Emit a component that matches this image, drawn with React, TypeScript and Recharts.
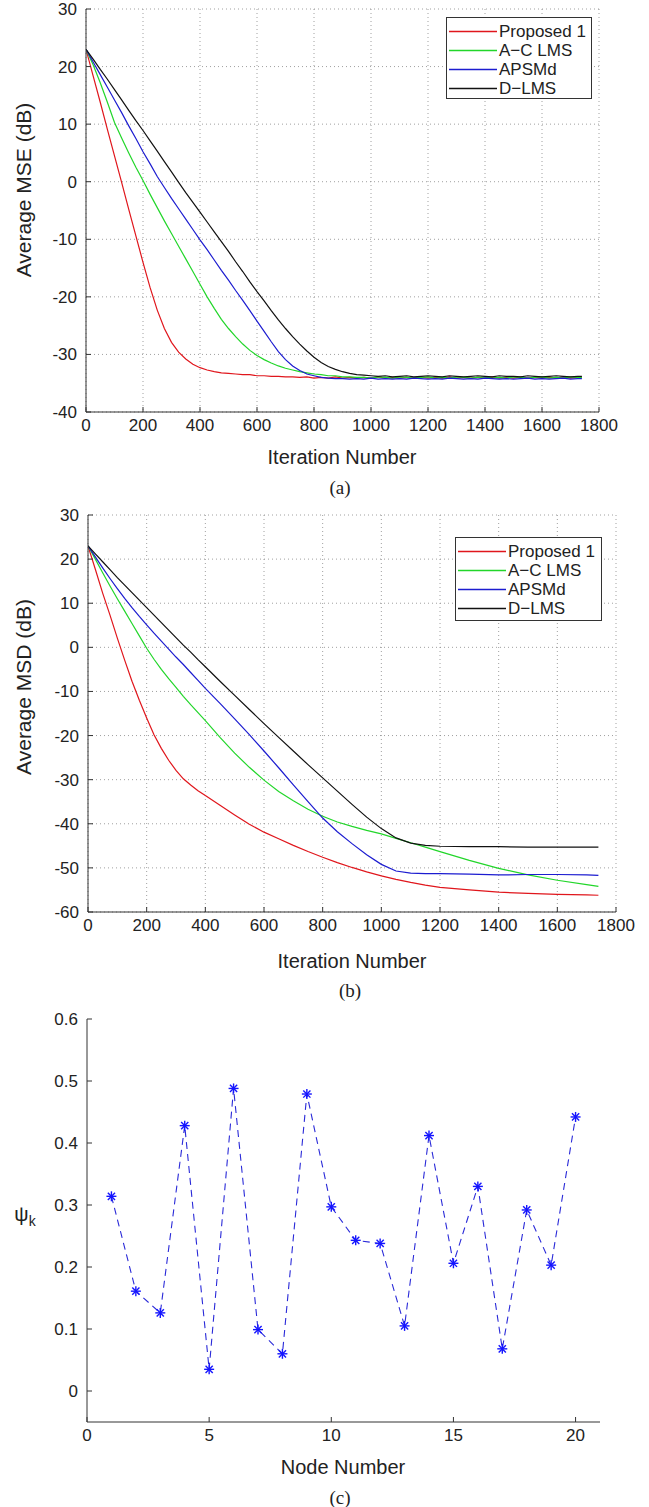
import React from 'react';
import { LineChart, Line, XAxis, YAxis, CartesianGrid, Legend } from 'recharts';

const FONT = '"Liberation Sans", Arial, Helvetica, sans-serif';
const TXT = '#222';
const AX = '#333';

// ---------- Panel (a): Average MSE ----------
const mseIter = [
  0, 25, 50, 75, 100, 125, 150, 175, 200, 225,
  250, 275, 300, 325, 350, 375, 400, 425, 450, 475,
  500, 525, 550, 575, 600, 625, 650, 675, 700, 725,
  750, 775, 800, 825, 850, 875, 900, 925, 950, 975,
  1000, 1025, 1050, 1075, 1100, 1125, 1150, 1175, 1200, 1225,
  1250, 1275, 1300, 1325, 1350, 1375, 1400, 1425, 1450, 1475,
  1500, 1525, 1550, 1575, 1600, 1625, 1650, 1675, 1700, 1725,
  1740,
];
const mseProposed = [
  23, 18.4, 13.8, 9.1, 4.5, -0.1, -4.8, -9.4, -14.0, -18.4,
  -22.3, -25.5, -27.9, -29.6, -30.8, -31.7, -32.3, -32.7, -33.0, -33.2,
  -33.3, -33.4, -33.5, -33.5, -33.7, -33.7, -33.8, -33.8, -33.9, -33.9,
  -34.0, -33.9, -34.1, -34.0, -34.1, -33.9, -34.1, -34.0, -34.1, -34.0,
  -34.1, -33.9, -34.1, -34.0, -34.1, -34.0, -34.1, -33.9, -34.1, -34.0,
  -34.1, -33.9, -34.1, -34.0, -34.1, -34.0, -34.1, -33.9, -34.1, -34.0,
  -34.1, -33.9, -34.1, -34.0, -34.1, -34.0, -34.1, -33.9, -34.1, -34.0,
  -34.0,
];
const mseAC = [
  23, 20.3, 17.2, 13.8, 10.3, 7.6, 5.0, 2.5, 0.2, -2.2,
  -4.5, -6.8, -9.0, -11.2, -13.4, -15.6, -17.8, -20.0, -22.0, -23.9,
  -25.5, -26.9, -28.2, -29.3, -30.2, -30.9, -31.5, -32.0, -32.4, -32.7,
  -33.0, -33.2, -33.4, -33.5, -33.7, -33.7, -33.9, -33.9, -34.0, -34.0,
  -34.1, -33.9, -34.0, -34.1, -33.9, -34.0, -34.1, -34.0, -33.9, -34.1,
  -34.0, -34.1, -33.9, -34.0, -34.1, -34.0, -33.9, -34.1, -34.0, -34.1,
  -33.9, -34.0, -34.1, -34.0, -33.9, -34.1, -34.0, -34.1, -33.9, -34.0,
  -34.0,
];
const mseAPSMd = [
  23, 20.8, 18.6, 16.4, 14.2, 12.0, 9.7, 7.5, 5.2, 3.1,
  0.9, -1.0, -2.9, -4.7, -6.5, -8.3, -10.1, -11.8, -13.6, -15.4,
  -17.1, -18.9, -20.6, -22.4, -24.2, -26.0, -27.8, -29.5, -30.9, -32.0,
  -32.8, -33.4, -33.7, -34.0, -34.1, -34.2, -34.2, -34.3, -34.2, -34.3,
  -34.1, -34.3, -34.2, -34.3, -34.2, -34.3, -34.1, -34.2, -34.3, -34.2,
  -34.3, -34.1, -34.2, -34.3, -34.2, -34.3, -34.1, -34.2, -34.3, -34.2,
  -34.3, -34.2, -34.1, -34.3, -34.2, -34.3, -34.2, -34.1, -34.3, -34.2,
  -34.2,
];
const mseDLMS = [
  23, 21.3, 19.5, 17.8, 16.0, 14.2, 12.4, 10.6, 8.9, 7.1,
  5.3, 3.5, 1.7, -0.1, -1.9, -3.6, -5.3, -7.0, -8.7, -10.4,
  -12.1, -13.9, -15.6, -17.4, -19.1, -20.7, -22.4, -24.0, -25.5, -26.9,
  -28.2, -29.4, -30.5, -31.4, -32.1, -32.6, -33.0, -33.3, -33.5, -33.6,
  -33.7, -33.8, -33.7, -33.9, -33.8, -33.7, -33.9, -33.8, -33.7, -33.8,
  -33.9, -33.7, -33.8, -33.9, -33.8, -33.7, -33.8, -33.9, -33.7, -33.8,
  -33.8, -33.9, -33.7, -33.8, -33.9, -33.8, -33.7, -33.8, -33.9, -33.8,
  -33.8,
];
const mseXTicks = [0, 200, 400, 600, 800, 1000, 1200, 1400, 1600, 1800];
const mseYTicks = [-40, -30, -20, -10, 0, 10, 20, 30];

// ---------- Panel (b): Average MSD ----------
const msdIter = [
  0, 25, 50, 75, 100, 125, 150, 175, 200, 225, 250, 275, 300, 325, 350, 375, 400,
  450, 500, 550, 600, 650, 700, 750, 800, 850, 900, 950, 1000, 1050, 1100, 1150, 1200,
  1300, 1400, 1500, 1600, 1700, 1740,
];
const msdProposed = [
  23, 17.7, 12.3, 7.3, 2.1, -2.9, -7.7, -12.0, -16.0, -19.8, -22.9, -25.6, -27.9, -29.8, -31.2, -32.5, -33.6,
  -35.8, -38.0, -40.1, -41.9, -43.4, -44.9, -46.3, -47.6, -48.8, -49.9, -50.9, -51.8, -52.6, -53.3, -53.9, -54.4,
  -55.0, -55.5, -55.8, -56.0, -56.1, -56.2,
];
const msdAC = [
  23, 20.0, 16.9, 13.9, 11.0, 8.2, 5.4, 2.6, -0.2, -2.7, -5.0, -7.1, -9.1, -11.1, -13.0, -14.8, -16.6,
  -20.4, -24.0, -27.2, -30.1, -32.7, -34.8, -36.7, -38.3, -39.6, -40.6, -41.5, -42.3, -43.3, -44.3, -45.3, -46.3,
  -48.3, -50.1, -51.6, -52.8, -53.8, -54.2,
];
const msdAPSMd = [
  23, 20.5, 18.0, 15.6, 13.3, 11.1, 9.0, 7.0, 5.1, 3.2, 1.4, -0.4, -2.2, -3.9, -5.7, -7.5, -9.3,
  -12.7, -16.2, -19.8, -23.5, -27.3, -31.2, -35.0, -38.7, -41.8, -44.5, -47.0, -49.2, -50.7, -51.2, -51.3, -51.3,
  -51.4, -51.6, -51.5, -51.5, -51.6, -51.7,
];
const msdDLMS = [
  23, 21.2, 19.4, 17.6, 15.8, 14.1, 12.4, 10.7, 9.0, 7.3, 5.6, 3.9, 2.2, 0.5, -1.1, -2.8, -4.4,
  -7.7, -10.9, -14.1, -17.3, -20.4, -23.5, -26.6, -29.6, -32.6, -35.6, -38.5, -41.1, -43.2, -44.4, -44.9, -45.1,
  -45.2, -45.2, -45.3, -45.3, -45.3, -45.3,
];
const msdYTicks = [-60, -50, -40, -30, -20, -10, 0, 10, 20, 30];

// ---------- Panel (c): psi_k per node ----------
const nodes = [1, 2, 3, 4, 5, 6, 7, 8, 9, 10, 11, 12, 13, 14, 15, 16, 17, 18, 19, 20];
const psi = [
  0.314, 0.161, 0.126, 0.428, 0.035, 0.488, 0.099, 0.060, 0.479, 0.297,
  0.243, 0.238, 0.105, 0.412, 0.206, 0.330, 0.068, 0.292, 0.203, 0.442,
];
const nodeTicks = [0, 5, 10, 15, 20];
const psiTicks = [0, 0.1, 0.2, 0.3, 0.4, 0.5, 0.6];

const seriesNames = ['Proposed 1', 'A\u2212C LMS', 'APSMd', 'D\u2212LMS'];
const seriesColors = ['#e0161c', '#22d62a', '#1c1cd0', '#111111'];

const mseData = mseIter.map((x, i) => ({
  x, s0: mseProposed[i], s1: mseAC[i], s2: mseAPSMd[i], s3: mseDLMS[i],
}));
const msdData = msdIter.map((x, i) => ({
  x, s0: msdProposed[i], s1: msdAC[i], s2: msdAPSMd[i], s3: msdDLMS[i],
}));
const psiData = nodes.map((x, i) => ({ x, psi: psi[i] }));

const tickStyle = { fontSize: 17, fill: TXT, fontFamily: FONT };

function BoxLegend(props: any) {
  const payload = [...(props.payload || [])].sort(
    (a: any, b: any) => seriesNames.indexOf(a.value) - seriesNames.indexOf(b.value),
  );
  return (
    <div
      style={{
        border: `1px solid ${AX}`,
        background: '#fff',
        width: '100%',
        height: '100%',
        boxSizing: 'border-box',
        paddingTop: 4,
        fontFamily: FONT,
        fontSize: 17,
        color: TXT,
      }}
    >
      {payload.map((p: any) => (
        <div key={p.value} style={{ display: 'flex', alignItems: 'center', height: 19, lineHeight: '19px', whiteSpace: 'nowrap' }}>
          <svg width={52} height={19} style={{ flex: 'none' }}>
            <line x1={2} x2={50} y1={9.5} y2={9.5} stroke={p.color} strokeWidth={1.3} />
          </svg>
          <span>{p.value}</span>
        </div>
      ))}
    </div>
  );
}

function Asterisk(props: any) {
  const { cx, cy } = props;
  if (cx == null || cy == null) return null;
  const r = 5;
  const d = r * 0.72;
  const c = '#1515ff';
  return (
    <g>
      <line x1={cx - r} x2={cx + r} y1={cy} y2={cy} stroke={c} strokeWidth={1.4} />
      <line x1={cx} x2={cx} y1={cy - r} y2={cy + r} stroke={c} strokeWidth={1.4} />
      <line x1={cx - d} x2={cx + d} y1={cy - d} y2={cy + d} stroke={c} strokeWidth={1.4} />
      <line x1={cx - d} x2={cx + d} y1={cy + d} y2={cy - d} stroke={c} strokeWidth={1.4} />
    </g>
  );
}

function CurveChart(props: {
  data: any[]; yTicks: number[]; yDomain: [number, number];
  margin: any; legendPos: { left: number; top: number; width: number; height: number };
}) {
  const { data, yTicks, yDomain, margin, legendPos } = props;
  return (
    <LineChart width={649} height={450} data={data} margin={margin}>
      <CartesianGrid stroke="#888" strokeDasharray="1 3" strokeWidth={0.8} />
      <XAxis
        dataKey="x" type="number" domain={[0, 1800]} ticks={mseXTicks} interval={0}
        height={30} tickSize={-5} tickMargin={12} tick={tickStyle}
        stroke={AX} allowDataOverflow
      />
      <XAxis
        xAxisId="top" orientation="top" dataKey="x" type="number" domain={[0, 1800]}
        ticks={mseXTicks} interval={0} height={0} tickSize={-5} tick={false}
        stroke={AX} allowDataOverflow
      />
      <YAxis
        type="number" domain={yDomain} ticks={yTicks} interval={0} width={60}
        tickSize={-5} tickMargin={14} tick={tickStyle} stroke={AX} allowDataOverflow
      />
      <YAxis
        yAxisId="right" orientation="right" type="number" domain={yDomain} ticks={yTicks}
        interval={0} width={0} tickSize={-5} tick={false} stroke={AX} allowDataOverflow
      />
      <Legend
        layout="vertical" align="center" verticalAlign="middle"
        wrapperStyle={{ ...legendPos }}
        content={(p: any) => <BoxLegend payload={p.payload} />}
      />
      {seriesNames.map((n, i) => (
        <Line
          key={n} name={n} dataKey={`s${i}`} type="linear" stroke={seriesColors[i]}
          strokeWidth={1.2} dot={false} legendType="line" isAnimationActive={false}
        />
      ))}
    </LineChart>
  );
}

const abs = (left: number, top: number, extra: any = {}) => ({
  position: 'absolute' as const, left, top, ...extra,
});

function CenterText(props: { x: number; y: number; size: number; serif?: boolean; rotate?: boolean; children: any }) {
  const { x, y, size, serif, rotate, children } = props;
  return (
    <div
      style={abs(x, y, {
        transform: `translate(-50%, -50%)${rotate ? ' rotate(-90deg)' : ''}`,
        fontFamily: serif ? '"Liberation Serif", "Times New Roman", serif' : FONT,
        fontSize: size,
        color: TXT,
        whiteSpace: 'nowrap',
        lineHeight: 1,
      })}
    >
      {children}
    </div>
  );
}

export default function App() {
  return (
    <div style={{ position: 'absolute', left: 0, top: 0, width: 649, height: 1507, background: '#fff', overflow: 'hidden' }}>
      {/* (a) */}
      <div style={abs(0, 0)}>
        <CurveChart
          data={mseData} yTicks={mseYTicks} yDomain={[-40, 30]}
          margin={{ top: 9, left: 26, right: 50, bottom: 8 }}
          legendPos={{ left: 446, top: 17, width: 146, height: 82 }}
        />
      </div>
      <CenterText x={23} y={190} size={21} rotate>Average MSE (dB)</CenterText>
      <CenterText x={342} y={457} size={20}>Iteration Number</CenterText>
      <CenterText x={340} y={487} size={19} serif>(a)</CenterText>

      {/* (b) */}
      <div style={abs(0, 500)}>
        <CurveChart
          data={msdData} yTicks={msdYTicks} yDomain={[-60, 30]}
          margin={{ top: 15, left: 28, right: 33, bottom: 8 }}
          legendPos={{ left: 455, top: 37, width: 147, height: 84 }}
        />
      </div>
      <CenterText x={23} y={687} size={21} rotate>Average MSD (dB)</CenterText>
      <CenterText x={352} y={961} size={20}>Iteration Number</CenterText>
      <CenterText x={350} y={990} size={19} serif>(b)</CenterText>

      {/* (c) */}
      <div style={abs(0, 1000)}>
        <LineChart width={649} height={450} data={psiData} margin={{ top: 19, left: 27, right: 49, bottom: 8 }}>
          <XAxis
            dataKey="x" type="number" domain={[0, 21]} ticks={nodeTicks} interval={0}
            height={20} tickSize={-5} tickMargin={12} tick={tickStyle} stroke={AX} allowDataOverflow
          />
          <XAxis
            xAxisId="top" orientation="top" dataKey="x" type="number" domain={[0, 21]}
            ticks={nodeTicks} interval={0} height={0} tickSize={-5} tick={false} stroke={AX} allowDataOverflow
          />
          <YAxis
            type="number" domain={[-0.05, 0.6]} ticks={psiTicks} interval={0} width={60}
            tickSize={-5} tickMargin={14} tick={tickStyle} stroke={AX} allowDataOverflow
            tickFormatter={(v: number) => (v === 0 ? '0' : v.toFixed(1))}
          />
          <YAxis
            yAxisId="right" orientation="right" type="number" domain={[-0.05, 0.6]} ticks={psiTicks}
            interval={0} width={0} tickSize={-5} tick={false} stroke={AX} allowDataOverflow
          />
          <Line
            dataKey="psi" type="linear" stroke="#2a2ad8" strokeWidth={1.1} strokeDasharray="7 5"
            dot={(p: any) => <Asterisk key={`d${p.index}`} cx={p.cx} cy={p.cy} />}
            isAnimationActive={false}
          />
        </LineChart>
      </div>
      <CenterText x={25} y={1216} size={20}>
        <span>ψ<sub style={{ fontSize: 14 }}>k</sub></span>
      </CenterText>
      <CenterText x={343} y={1467} size={20}>Node Number</CenterText>
      <CenterText x={340} y={1497} size={19} serif>(c)</CenterText>
    </div>
  );
}
